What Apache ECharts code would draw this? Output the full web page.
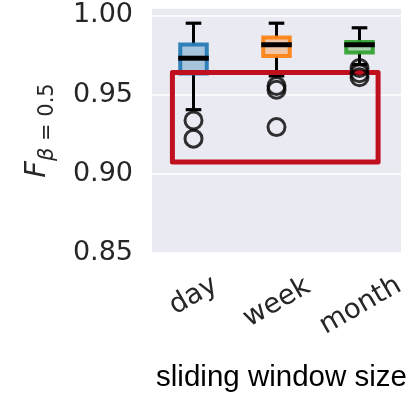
<!DOCTYPE html>
<html>
<head>
<meta charset="utf-8">
<script src="https://cdn.jsdelivr.net/npm/echarts/dist/echarts.min.js"></script>
<style>
  html, body { margin: 0; padding: 0; background: #ffffff; }
  #chart { width: 415px; height: 395px; }
</style>
</head>
<body>
<div id="chart"></div>
<script>
// Box statistics per sliding-window size
const categories = ['day', 'week', 'month'];
const lowerWhisker = [0.9405, 0.9618, 0.9690];
const q1 = [0.9634, 0.9744, 0.9766];
const median = [0.9730, 0.9815, 0.9815];
const q3 = [0.9817, 0.9861, 0.9833];
const upperWhisker = [0.9951, 0.9951, 0.9922];
const fliers = [
  [0.9337, 0.9222],
  [0.9554, 0.9531, 0.9295],
  [0.9668, 0.9635, 0.9610]
];
// Highlighted region (category-index range and score range)
const highlightX = [-0.254, 2.224];
const highlightY = [0.9074, 0.9640];
const yTicks = [0.85, 0.90, 0.95, 1.00];

const palette = ['#1f77b4', '#ff7f0e', '#2ca02c'];
const DEJAVU = '"DejaVu Sans", sans-serif';
const ARIAL = '"Liberation Sans", Arial, sans-serif';

function rgba(hex, a) {
  const n = parseInt(hex.slice(1), 16);
  return 'rgba(' + ((n >> 16) & 255) + ',' + ((n >> 8) & 255) + ',' + (n & 255) + ',' + a + ')';
}

const boxData = categories.map((c, i) =>
  [i, lowerWhisker[i], q1[i], median[i], q3[i], upperWhisker[i]]);

const flierData = [];
fliers.forEach((vals, i) => vals.forEach(v => flierData.push([i, v])));

function renderBox(params, api) {
  const i = api.value(0);
  const bw = api.size([1, 0])[0];
  const x = api.coord([i, api.value(3)])[0];
  const half = bw * 0.16;
  const capHalf = bw * 0.094;
  const yLo = api.coord([i, api.value(1)])[1];
  const yQ1 = api.coord([i, api.value(2)])[1];
  const yMed = api.coord([i, api.value(3)])[1];
  const yQ3 = api.coord([i, api.value(4)])[1];
  const yHi = api.coord([i, api.value(5)])[1];
  const color = palette[i];
  const whisker = { stroke: '#000000', lineWidth: 3 };
  const cap = { stroke: '#000000', lineWidth: 3.2 };
  return {
    type: 'group',
    children: [
      { type: 'line', shape: { x1: x, y1: yQ1, x2: x, y2: yLo }, style: whisker },
      { type: 'line', shape: { x1: x, y1: yQ3, x2: x, y2: yHi }, style: whisker },
      { type: 'line', shape: { x1: x - capHalf, y1: yLo, x2: x + capHalf, y2: yLo }, style: cap },
      { type: 'line', shape: { x1: x - capHalf, y1: yHi, x2: x + capHalf, y2: yHi }, style: cap },
      {
        type: 'rect',
        shape: { x: x - half, y: yQ3, width: half * 2, height: yQ1 - yQ3 },
        style: { fill: rgba(color, 0.33), stroke: rgba(color, 0.9), lineWidth: 4 }
      },
      { type: 'line', shape: { x1: x - half - 2, y1: yMed, x2: x + half + 2, y2: yMed }, style: { stroke: '#000', lineWidth: 5 } }
    ]
  };
}

function renderHighlight(params, api) {
  const bw = api.size([1, 0])[0];
  const x0 = api.coord([0, highlightY[0]])[0];
  const left = x0 + highlightX[0] * bw;
  const right = x0 + highlightX[1] * bw;
  const top = api.coord([0, highlightY[1]])[1];
  const bottom = api.coord([0, highlightY[0]])[1];
  return {
    type: 'rect',
    shape: { x: left, y: top, width: right - left, height: bottom - top },
    style: { fill: 'none', stroke: '#c00f1e', lineWidth: 5, lineJoin: 'round' }
  };
}

const chart = echarts.init(document.getElementById('chart'), null, { renderer: 'canvas' });
chart.setOption({
  animation: false,
  backgroundColor: '#ffffff',
  grid: {
    left: 152, right: 14, top: 8, bottom: 142,
    outerBoundsMode: 'none',
    containLabel: false,
    show: true, backgroundColor: '#eaeaf2', borderWidth: 0
  },
  xAxis: {
    type: 'category',
    data: categories,
    axisLine: { show: false },
    axisTick: { show: false },
    splitLine: { show: false },
    axisLabel: {
      rotate: 30,
      align: 'center',
      verticalAlign: 'middle',
      margin: 43,
      fontFamily: DEJAVU,
      fontSize: 27.5,
      color: '#262626',
      formatter: v => '{' + v + '|' + v + '}',
      rich: {
        day: { fontFamily: DEJAVU, fontSize: 27.5, color: '#262626' },
        week: { fontFamily: DEJAVU, fontSize: 27.5, color: '#262626', padding: [12, 6, 0, 0] },
        month: { fontFamily: DEJAVU, fontSize: 27.5, color: '#262626', padding: [18, 8, 0, 0] }
      }
    },
    name: 'sliding window size',
    nameLocation: 'middle',
    nameGap: 110,
    nameTextStyle: {
      fontFamily: ARIAL,
      fontSize: 29.5,
      lineHeight: 29,
      color: '#000000',
      padding: [0, 0, 0, 10]
    }
  },
  yAxis: {
    type: 'value',
    min: yTicks[0],
    max: 1.0047,
    interval: 0.05,
    axisLine: { show: false },
    axisTick: { show: false },
    splitLine: { show: true, lineStyle: { color: '#ffffff', width: 1.5 } },
    axisLabel: {
      margin: 19,
      fontFamily: DEJAVU,
      fontSize: 27,
      color: '#262626',
      showMaxLabel: false,
      formatter: v => yTicks.some(t => Math.abs(t - v) < 1e-6) ? v.toFixed(2) : ''
    },
    name: '{f|F}{b|β}{s| = 0.5}',
    nameLocation: 'middle',
    nameRotate: 90,
    nameGap: 94,
    nameTextStyle: {
      color: '#262626',
      fontFamily: DEJAVU,
      rich: {
        f: { fontFamily: DEJAVU, fontStyle: 'italic', fontSize: 29, lineHeight: 35, verticalAlign: 'top', color: '#262626' },
        b: { fontFamily: DEJAVU, fontStyle: 'italic', fontSize: 21, lineHeight: 19, verticalAlign: 'bottom', color: '#262626' },
        s: { fontFamily: DEJAVU, fontSize: 21, lineHeight: 19, verticalAlign: 'bottom', color: '#262626' }
      }
    }
  },
  series: [
    {
      type: 'custom',
      name: 'boxes',
      renderItem: renderBox,
      data: boxData,
      encode: { x: 0, y: [1, 2, 3, 4, 5] },
      z: 2
    },
    {
      type: 'custom',
      name: 'highlight',
      renderItem: renderHighlight,
      data: [[0, highlightY[0]]],
      encode: { x: 0, y: 1 },
      z: 3,
      silent: true
    },
    {
      type: 'scatter',
      name: 'outliers',
      data: flierData,
      symbol: 'circle',
      symbolSize: 17,
      itemStyle: { color: 'rgba(0,0,0,0)', borderColor: '#000000', borderWidth: 3 },
      z: 4
    }
  ]
});
</script>
</body>
</html>
